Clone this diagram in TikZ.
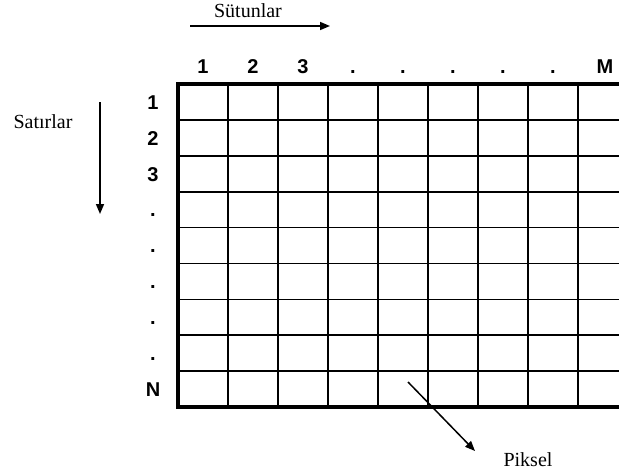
\documentclass[tikz,border=0pt]{standalone}
\usepackage{fontspec}
\setmainfont{Liberation Serif}
\newfontfamily\numfont{Liberation Sans}
\usetikzlibrary{arrows.meta}

\begin{document}
\begin{tikzpicture}[
  x=1pt, y=-1pt,
  num/.style={font=\numfont\bfseries\fontsize{20}{20}\selectfont, anchor=base},
  word/.style={font=\fontsize{20}{20}\selectfont, anchor=base},
  cell/.style={line width=1.7pt},
  frame/.style={line width=3.2pt},
  arrow/.style={-{Triangle[length=10pt,width=8pt]}, line width=1.5pt}
]
\useasboundingbox (0,0) rectangle (619,475);

% grid
\foreach \i in {1,...,8}
  \draw[cell] (178+50*\i,84) -- (178+50*\i,407);
\foreach \j in {1,...,8}
  \draw[cell] (178,84+35.9*\j) -- (619,84+35.9*\j);
\draw[frame] (619,84) -- (178,84) -- (178,407) -- (619,407);

% column labels
\node[num] (c1) at (203,73) {1};
\node[num] (c2) at (253,73) {2};
\node[num] (c3) at (303,73) {3};
\foreach \i in {4,...,8}
  \node[num] (c\i) at (153+50*\i,73) {.};
\node[num] (cM) at (605,73) {M};

% row labels
\node[num] (r1) at (153,109) {1};
\node[num] (r2) at (153,145) {2};
\node[num] (r3) at (153,181) {3};
\foreach \j in {4,...,8}
  \node[num] (r\j) at (153,73+35.9*\j) {.};
\node[num] (rN) at (153,396.5) {N};

% direction labels
\node[word] (cols) at (248,17) {Sütunlar};
\coordinate (colsA) at (190,26);
\coordinate (colsB) at (330,26);
\draw[arrow] (colsA) -- (colsB);

\node[word] (rows) at (43,128) {Satırlar};
\coordinate (rowsA) at (100,102);
\coordinate (rowsB) at (100,214);
\draw[arrow] (rowsA) -- (rowsB);

\node[word] (pix) at (528,466) {Piksel};
\coordinate (pixA) at (408,382);
\coordinate (pixB) at (475,451);
\draw[arrow] (pixA) -- (pixB);
\end{tikzpicture}
\end{document}
